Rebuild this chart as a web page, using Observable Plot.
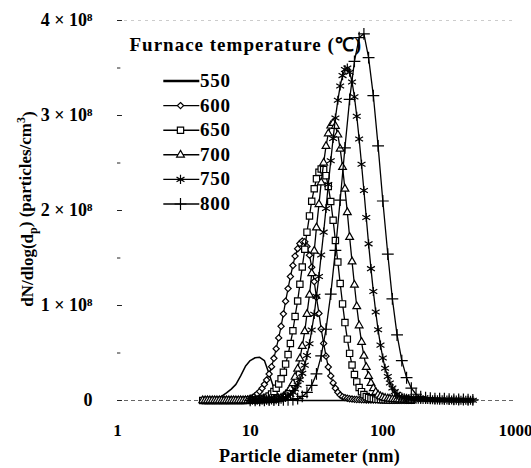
<!DOCTYPE html>
<html><head><meta charset="utf-8">
<script src="https://cdn.jsdelivr.net/npm/d3@7"></script>
<script src="https://cdn.jsdelivr.net/npm/@observablehq/plot@0.6"></script>
<style>body{margin:0;background:#fff} svg{font-family:"Liberation Serif",serif}</style>
</head><body><div id="chart"></div>
<script>
// Particle diameters (nm): coarse channels (550, 800 °C scans) and fine channels (600–750 °C scans)
const diametersCoarse = [4.39,4.77,5.18,5.62,6.11,6.63,7.20,7.81,8.48,9.21,10.0,10.9,11.8,12.8,13.9,15.1,16.4,17.8,19.3,21.0,22.8,24.7,26.8,29.1,31.6,34.3,37.3,40.5,43.9,47.7,51.8,56.2,61.1,66.3,72.0,78.1,84.8,92.1,100,109,118,128,139,151,164,178,193,210,228,247,268,291,316,343,373,405,439,477,518];
const diametersFine = [4.39,4.58,4.77,4.97,5.18,5.40,5.62,5.86,6.11,6.36,6.63,6.91,7.20,7.50,7.81,8.14,8.48,8.84,9.21,9.60,10.0,10.4,10.9,11.3,11.8,12.3,12.8,13.3,13.9,14.5,15.1,15.7,16.4,17.1,17.8,18.5,19.3,20.1,21.0,21.8,22.8,23.7,24.7,25.8,26.8,28.0,29.1,30.4,31.6,33.0,34.3,35.8,37.3,38.8,40.5,42.2,43.9,45.8,47.7,49.7,51.8,54.0,56.2,58.6,61.1,63.6,66.3,69.1,72.0,75.0,78.1,81.4,84.8,88.4,92.1,96.0,100,104,109,113,118,123,128,133,139,145,151,157,164,171,178,185,193,201,210,218,228,237,247,258,268,280,291,304,316,330,343,358,373,388,405,422,439,458,477,497,518];

// dN/dlog(dp) in units of 1e8 particles/cm3
const v550 = [0.003,0.006,0.012,0.025,0.045,0.08,0.12,0.17,0.26,0.36,0.42,0.45,0.455,0.42,0.28,0.13,0.05,0.015,0.005,0.002,0.001,0.001,0.001,0.001,0.001,0.001,0.001,0.001,0.001,0.001,0.001,0.001,0.001,0.001,0.001,0.001,0.001,0.001,0.001,0.001,0.001,0.001,0.001,0.001,0.001];
const v600 = [0,0,0,0,0,0,0,0,0,0,0,0,
  0.001,0.0015,0.002,0.003,0.004,0.006,0.010,0.015,0.022,0.032,
  0.05,0.07,0.095,0.128,0.17,0.216,0.279,0.356,0.444,0.545,
  0.659,0.781,0.912,1.045,1.178,1.305,1.421,1.520,1.598,1.652,
  1.678,1.672,1.621,1.530,1.403,1.252,1.087,0.917,0.753,0.601,
  0.467,0.353,0.259,0.185,0.129,0.087,0.057,0.04,0.03,0.024,
  0.018,0.015,0.012,0.01,0.009,0.008,0.007,0.006,
  0.006,0.005,0.005,0.005,0.005,0.004,0.004,0.004,0.004,0.003,
  0.003,0.003,0.003,0.003,0.003,0.002,0.002,0.002,0.002];
const v650 = [0,0,0,0,0,0,0,0,0,0,0,0,0,0,0,0,
  0.001,0.001,0.001,0.0015,0.002,0.003,0.004,0.007,0.010,0.016,
  0.023,0.034,0.048,0.068,0.094,0.129,0.173,0.229,0.298,0.383,
  0.483,0.600,0.734,0.884,1.048,1.223,1.406,1.592,1.772,1.943,
  2.098,2.229,2.333,2.403,2.437,2.430,2.367,2.252,2.094,1.898,
  1.684,1.457,1.232,1.017,0.820,0.646,0.496,0.373,0.274,0.196,
  0.137,0.093,0.062,0.041,0.03,0.022,0.018,0.014,0.012,0.010,
  0.009,0.008,0.007,0.006,0.006,0.005,0.005,0.005,0.004,0.004,
  0.004,0.003,0.003];
const v700 = [0,0,0,0,0,0,0,0,0,0,0,0,0,0,0,0,0,0,0,0,0,0,0,0,
  0.001,0.001,0.0015,0.002,0.003,0.005,0.007,0.011,0.018,0.027,
  0.041,0.062,0.090,0.128,0.180,0.247,0.333,0.441,0.572,0.728,
  0.909,1.112,1.337,1.575,1.820,2.065,2.294,2.502,2.678,2.810,
  2.892,2.92,2.889,2.797,2.648,2.456,2.228,1.980,1.720,1.462,
  1.216,0.990,0.789,0.615,0.470,0.351,0.256,0.183,0.128,0.088,
  0.059,0.042,0.032,0.025,0.02,0.016,0.014,0.012,0.011,0.01,
  0.009,0.008,0.007,0.006,0.006];
const v750 = [null,null,null,null,null,null,null,null,null,null,null,null,null,null,null,null,null,null,null,null,
  0.002,0.002,0.002,0.002,0.003,0.003,0.003,0.004,0.004,0.005,
  0.006,0.008,0.01,0.015,0.021,0.031,0.045,0.063,0.088,0.121,
  0.163,0.218,0.286,0.371,0.474,0.597,0.742,0.907,1.096,1.305,
  1.532,1.772,2.021,2.274,2.523,2.758,2.973,3.160,3.311,3.420,
  3.484,3.499,3.456,3.353,3.196,2.992,2.753,2.487,2.210,1.926,
  1.649,1.388,1.148,0.932,0.744,0.583,0.448,0.340,0.252,0.184,
  0.132,0.093,0.064,0.045,0.035,0.028,0.023,0.02,0.018,0.016,
  0.015,0.013,0.012,0.011,0.01,0.01,0.009,0.008,0.008,0.007,
  0.007,0.006,0.006,0.005,0.005,0.005,0.004,0.004,0.004,0.003,
  0.003,0.003,0.003,0.003,0.003];
const v800 = [null,null,null,null,null,null,null,null,null,null,0.002,0.002,0.003,0.003,0.004,0.004,0.005,0.006,0.007,0.009,0.02,0.043,0.085,0.16,0.28,0.47,0.75,1.12,1.58,2.11,2.66,3.17,3.57,3.82,3.86,3.61,3.21,2.68,2.10,1.54,1.07,0.69,0.42,0.24,0.13,0.066,0.04,0.03,0.025,0.02,0.02,0.018,0.015,0.012,0.01,0.01,0.008,0.006];

const temps = ["550","600","650","700","750","800"];
const seriesValues = [v550, v600, v650, v700, v750, v800];
const seriesDiameters = [diametersCoarse, diametersFine, diametersFine, diametersFine, diametersFine, diametersCoarse];
const symbols = [null, "diamond2", "square2", "triangle2", "asterisk", "plus"];
const symbolR = [0, 2.8, 4, 3.7, 4.3, 3.9];
const symbolFill = [null, "white", "white", "white", "none", "none"];
const lineWidths = [1.5, 1.3, 1.3, 1.3, 1.3, 1.3];
const legendLineWidths = [2.7, 1.4, 1.4, 1.4, 1.4, 1.4];

const xTicks = [1, 10, 100, 1000];
const yTicks = [0, 1, 2, 3, 4];
const yMinor = [0.5, 1.5, 2.5, 3.5];
const legendTitle = "Furnace temperature (\u2103)";

const series = temps.map((t, k) => seriesValues[k]
  .map((v, i) => v == null ? null : {t, d: seriesDiameters[k][i], v})
  .filter(Boolean));

const lineSym = {draw(ctx) { ctx.moveTo(-18, 0); ctx.lineTo(18, 0); }};

const marks = [
  Plot.ruleY([0], {stroke: "#666", strokeDasharray: "4,3"}),
  Plot.ruleY([4], {stroke: "#ccc", strokeDasharray: "3,4"}),
  Plot.ruleY(yTicks, {y: d => d, x1: 1, x2: 1.09, stroke: "#222"}),
  Plot.ruleY(yMinor, {y: d => d, x1: 1, x2: 1.06, stroke: "#222"}),
  Plot.axisX({ticks: xTicks, tickSize: 0, tickPadding: 23, tickFormat: d => String(d), label: null}),
  Plot.axisY({ticks: yTicks, tickSize: 0, tickPadding: 25, fontSize: 18, tickFormat: d => d === 0 ? "0" : `${d} × 10\u2078`, label: null}),
  Plot.text(["Particle diameter (nm)"], {frameAnchor: "bottom", dy: 56, dx: -7, lineAnchor: "middle", fontSize: 18, fontWeight: "bold"})
];

series.forEach((rows, k) => {
  marks.push(Plot.line(rows, {x: "d", y: "v", stroke: "black", strokeWidth: lineWidths[k]}));
  if (symbols[k]) {
    marks.push(Plot.dot(rows, {x: "d", y: "v", symbol: symbols[k], r: symbolR[k], stroke: "black", strokeWidth: 1.2, fill: symbolFill[k]}));
  }
});

// legend
marks.push(Plot.text([legendTitle], {frameAnchor: "top-left", dx: 12, dy: 24, textAnchor: "start", lineAnchor: "middle", fontSize: 19, fontWeight: "bold"}));
temps.forEach((t, k) => {
  const dy = 60.5 + 24.6 * k;
  marks.push(Plot.dot([t], {frameAnchor: "top-left", dx: 63.8, dy, symbol: lineSym, r: 4, stroke: "black", fill: "none", strokeWidth: legendLineWidths[k]}));
  if (symbols[k]) marks.push(Plot.dot([t], {frameAnchor: "top-left", dx: 63, dy, symbol: symbols[k], r: symbolR[k], stroke: "black", strokeWidth: 1.2, fill: symbolFill[k]}));
  marks.push(Plot.text([t], {frameAnchor: "top-left", dx: 82.5, dy, text: d => d, textAnchor: "start", lineAnchor: "middle", fontSize: 19, fontWeight: "bold"}));
});

const plot = Plot.plot({
  width: 531, height: 468,
  marginLeft: 117, marginRight: 16, marginTop: 20, marginBottom: 68,
  x: {type: "log", domain: [1, 1000]},
  y: {domain: [0, 4]},
  style: {fontFamily: "'Liberation Serif', serif", fontSize: "17px", fontWeight: "bold", color: "black", background: "white"},
  marks
});
document.getElementById("chart").appendChild(plot);

const svg = d3.select(plot.tagName === "svg" ? plot : plot.querySelector("svg"));
// letter spacing of legend and axis texts (the original is set loosely)
svg.selectAll("text").each(function() {
  const s = this.textContent;
  if (s === legendTitle) d3.select(this).attr("letter-spacing", "1.0");
  if (temps.includes(s)) d3.select(this).attr("letter-spacing", "0.8");
  if (s === "Particle diameter (nm)") d3.select(this).attr("letter-spacing", "0.3");
});
// y axis label with subscript and superscript
const yl = svg.append("text")
  .attr("transform", "translate(27,209) rotate(-90)")
  .attr("text-anchor", "middle").attr("dy", "0.35em")
  .attr("font-size", 17).attr("font-weight", "bold").attr("fill", "black");
yl.append("tspan").text("dN/dlog(d");
yl.append("tspan").attr("dy", "0.3em").attr("font-size", 12).text("p");
yl.append("tspan").attr("dy", "-0.3em").text(") (particles/cm");
yl.append("tspan").attr("dy", "-0.5em").attr("font-size", 12).text("3");
yl.append("tspan").attr("dy", "0.5em").text(")");
</script></body></html>
